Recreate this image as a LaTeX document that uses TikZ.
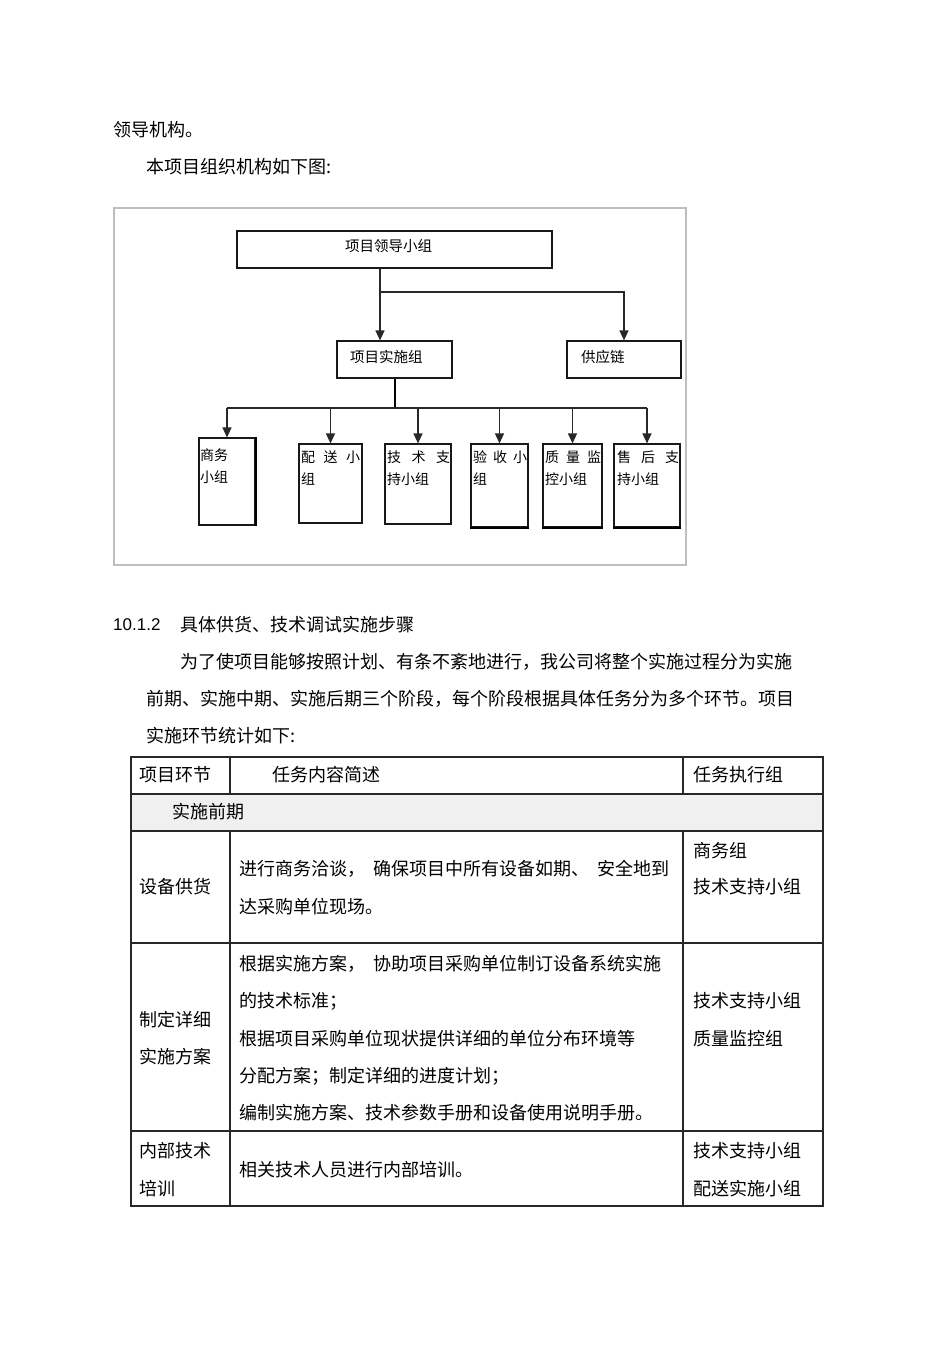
\documentclass[tikz,border=0pt]{standalone}
\usepackage{fontspec}
\newfontfamily\cjk{Noto Sans CJK SC}
\newfontfamily\lat{Liberation Sans}
\usetikzlibrary{arrows.meta}
\definecolor{frame}{RGB}{190,190,190}
\definecolor{ink}{RGB}{40,40,40}
\definecolor{rowgray}{RGB}{240,240,240}
\begin{document}
\begin{tikzpicture}[x=1pt,y=-1pt,
  body/.style={inner sep=0pt, anchor=west, font=\cjk\fontsize{18}{22}\selectfont},
  small/.style={inner sep=0pt, anchor=west, font=\cjk\fontsize{14}{17}\selectfont},
  orgbox/.style={draw=black!90, line width=1.2pt, inner sep=0pt},
  arr/.style={draw=ink, line width=1.4pt, -{Triangle[length=10pt,width=9pt]}},
  conn/.style={draw=ink, line width=1.4pt},
  tline/.style={draw=ink, line width=1.1pt}
]
\useasboundingbox (0,0) rectangle (950,1345);
\fill[white] (0,0) rectangle (950,1345);

% intro text
\node[body] (p1) at (113,130) {领导机构。};
\node[body] (p2) at (146,167) {本项目组织机构如下图:};

% frame of the chart
\draw[frame, line width=2pt] (114,208) rectangle (686,565);

% org chart boxes
\node[orgbox, minimum width=315pt, minimum height=37pt] (lead) at (394.5,249.5) {};
\node[small, font=\cjk\fontsize{14.5}{17}\selectfont] (leadt) at (345,246) {项目领导小组};
\node[orgbox, minimum width=115pt, minimum height=37pt] (impl) at (394.5,359.5) {};
\node[small, font=\cjk\fontsize{14.5}{17}\selectfont] (implt) at (350,357) {项目实施组};
\node[orgbox, minimum width=114pt, minimum height=37pt] (supp) at (624,359.5) {};
\node[small, font=\cjk\fontsize{14.5}{17}\selectfont] (suppt) at (581,357) {供应链};

\node[orgbox, minimum width=56pt, minimum height=87pt] (b1) at (227,481.5) {};
\node[orgbox, minimum width=63pt, minimum height=79pt] (b2) at (330.5,483.5) {};
\node[orgbox, minimum width=66pt, minimum height=80pt] (b3) at (418,484) {};
\node[orgbox, minimum width=57pt, minimum height=83pt] (b4) at (499.5,485.5) {};
\node[orgbox, minimum width=59pt, minimum height=83pt] (b5) at (572.5,485.5) {};
\node[orgbox, minimum width=66pt, minimum height=83pt] (b6) at (647,485.5) {};
% heavier edges
\draw[black, line width=2.2pt] (b1.north east) -- (b1.south east);
\draw[black, line width=2.2pt] (b4.south west) -- (b4.south east);
\draw[black, line width=2.2pt] (b5.south west) -- (b5.south east);
\draw[black, line width=2.2pt] (b6.south west) -- (b6.south east);

\node[small] (b1a) at (200,455) {商务};
\node[small] (b1b) at (200,477) {小组};
\node[small] (b2a) at (301,457) {\makebox[59pt][s]{配\hfill 送\hfill 小}};
\node[small] (b2b) at (301,479) {组};
\node[small] (b3a) at (387,457) {\makebox[63pt][s]{技\hfill 术\hfill 支}};
\node[small] (b3b) at (387,479) {持小组};
\node[small] (b4a) at (473,457) {\makebox[54pt][s]{验\hfill 收\hfill 小}};
\node[small] (b4b) at (473,479) {组};
\node[small] (b5a) at (545,457) {\makebox[56pt][s]{质\hfill 量\hfill 监}};
\node[small] (b5b) at (545,479) {控小组};
\node[small] (b6a) at (617,457) {\makebox[62pt][s]{售\hfill 后\hfill 支}};
\node[small] (b6b) at (617,479) {持小组};

% connectors
\coordinate (j1) at (380,292);
\coordinate (bus) at (395,408);
\draw[conn] (lead.south -| j1) -- (j1);
\draw[arr] (j1) -- (impl.north -| j1);
\draw[arr] (j1) -| (supp.north);
\draw[draw=black, line width=2.6pt] (impl.south -| bus) -- (bus);
\draw[conn] (bus -| b1) -- (bus -| b6);
\foreach \b in {b1,b2,b3,b4,b5,b6}{
  \draw[arr] (bus -| \b) -- (\b.north);
}

% heading and paragraph
\node[body, font=\lat\fontsize{17}{22}\selectfont] (h1) at (113,625) {10.1.2};
\node[body] (h2) at (180,625) {具体供货、技术调试实施步骤};
\node[body] (q1) at (180,662) {为了使项目能够按照计划、有条不紊地进行，我公司将整个实施过程分为实施};
\node[body] (q2) at (146,699) {前期、实施中期、实施后期三个阶段，每个阶段根据具体任务分为多个环节。项目};
\node[body] (q3) at (146,736) {实施环节统计如下:};

% table
\fill[rowgray] (131,794) rectangle (823,831);
\draw[tline] (131,757) rectangle (823,1206);
\draw[tline] (131,794) -- (823,794);
\draw[tline] (131,831) -- (823,831);
\draw[tline] (131,943) -- (823,943);
\draw[tline] (131,1131) -- (823,1131);
\draw[tline] (230,757) -- (230,794);
\draw[tline] (683,757) -- (683,794);
\draw[tline] (230,831) -- (230,1206);
\draw[tline] (683,831) -- (683,1206);

\node[body] (c11) at (139,775) {项目环节};
\node[body] (c12) at (272,775) {任务内容简述};
\node[body] (c13) at (693,775) {任务执行组};
\node[body] (c2) at (172,812) {实施前期};

\node[body] (r1a) at (139,887) {设备供货};
\node[body] (r1b) at (239,869) {进行商务洽谈，\hspace{8pt}确保项目中所有设备如期、\hspace{8pt}安全地到};
\node[body] (r1c) at (239,907) {达采购单位现场。};
\node[body] (r1d) at (693,851) {商务组};
\node[body] (r1e) at (693,887) {技术支持小组};

\node[body] (r2a) at (139,1020) {制定详细};
\node[body] (r2b) at (139,1057) {实施方案};
\node[body] (r2c) at (239,964) {根据实施方案，\hspace{8pt}协助项目采购单位制订设备系统实施};
\node[body] (r2d) at (239,1001) {的技术标准；};
\node[body] (r2e) at (239,1039) {根据项目采购单位现状提供详细的单位分布环境等};
\node[body] (r2f) at (239,1076) {分配方案；制定详细的进度计划；};
\node[body] (r2g) at (239,1113) {编制实施方案、技术参数手册和设备使用说明手册。};
\node[body] (r2h) at (693,1001) {技术支持小组};
\node[body] (r2i) at (693,1039) {质量监控组};

\node[body] (r3a) at (139,1151) {内部技术};
\node[body] (r3b) at (139,1189) {培训};
\node[body] (r3c) at (239,1170) {相关技术人员进行内部培训。};
\node[body] (r3d) at (693,1151) {技术支持小组};
\node[body] (r3e) at (693,1189) {配送实施小组};
\end{tikzpicture}
\end{document}
